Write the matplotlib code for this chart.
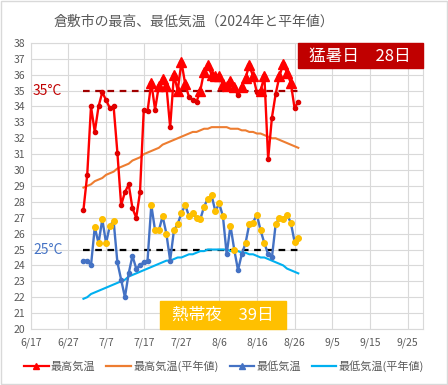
import numpy as np
import pandas as pd
import matplotlib
matplotlib.use("Agg")
import matplotlib.pyplot as plt
import matplotlib.dates as mdates
from matplotlib.lines import Line2D
from matplotlib.patches import Rectangle

plt.rcParams['font.family'] = ['Noto Sans CJK JP', 'DejaVu Sans']

# daily values 2024-07-01 .. 2024-08-27
start_date = '2024-07-01'
max_temp = [27.5, 29.7, 34.0, 32.4, 34.0, 34.9, 34.4, 33.9, 34.0, 31.1,
            27.8, 28.6, 29.1, 27.6, 27.0, 28.6, 33.8, 33.7, 35.5, 33.8,
            35.3, 35.7, 35.3, 32.7, 36.0, 35.0, 36.8, 35.4, 34.6, 34.4,
            34.3, 35.0, 36.2, 36.6, 36.0, 35.9, 35.9, 35.4, 35.3, 35.6,
            35.2, 34.7, 35.2, 35.8, 36.6, 35.9, 34.9, 35.0, 35.9, 30.7,
            33.3, 34.8, 35.9, 36.7, 36.1, 35.5, 33.9, 34.3]
max_normal = [28.9, 29.0, 29.1, 29.3, 29.4, 29.5, 29.7, 29.8, 29.9, 30.1,
              30.2, 30.3, 30.4, 30.6, 30.7, 30.8, 31.0, 31.1, 31.2, 31.3,
              31.4, 31.6, 31.7, 31.8, 31.9, 32.0, 32.1, 32.2, 32.3, 32.4,
              32.4, 32.5, 32.6, 32.6, 32.7, 32.7, 32.7, 32.7, 32.7, 32.6,
              32.6, 32.6, 32.5, 32.5, 32.4, 32.4, 32.3, 32.3, 32.2, 32.1,
              32.0, 32.0, 31.9, 31.8, 31.7, 31.6, 31.5, 31.4]
min_temp = [24.3, 24.3, 24.0, 26.4, 25.4, 26.9, 25.4, 26.5, 26.8, 24.2,
            23.1, 22.0, 23.5, 24.6, 23.8, 24.0, 24.2, 24.3, 27.8, 26.2,
            26.2, 27.1, 26.0, 24.3, 26.2, 26.6, 27.3, 27.8, 27.1, 27.3,
            27.0, 26.9, 27.7, 28.2, 28.4, 27.4, 27.9, 27.1, 24.7, 26.5,
            25.0, 23.7, 24.7, 25.4, 26.6, 26.7, 27.2, 26.2, 25.4, 24.7,
            24.5, 26.6, 27.0, 26.9, 27.2, 26.7, 25.5, 25.7]
min_normal = [21.9, 22.0, 22.2, 22.3, 22.4, 22.5, 22.6, 22.7, 22.8, 22.9,
              23.0, 23.1, 23.3, 23.4, 23.5, 23.6, 23.7, 23.8, 23.9, 24.0,
              24.1, 24.2, 24.3, 24.3, 24.4, 24.5, 24.5, 24.6, 24.7, 24.7,
              24.8, 24.9, 24.9, 25.0, 25.0, 25.0, 25.0, 25.0, 25.0, 24.9,
              24.9, 24.9, 24.8, 24.8, 24.7, 24.7, 24.6, 24.5, 24.5, 24.4,
              24.3, 24.2, 24.1, 24.0, 23.8, 23.7, 23.6, 23.5]

tick_labels = ['6/17', '6/27', '7/7', '7/17', '7/27', '8/6', '8/16',
               '8/26', '9/5', '9/15', '9/25']
hot_days = 28      # 猛暑日
tropical_nights = 39  # 熱帯夜

dates = pd.date_range(start_date, periods=len(max_temp))
x = mdates.date2num(dates)
max_temp = np.array(max_temp)
min_temp = np.array(min_temp)

fig = plt.figure(figsize=(4.48, 3.85), dpi=100)
ax = fig.add_axes([0.0685, 0.1455, 0.875, 0.743])

# normals
ax.plot(x, max_normal, color='#ED7D31', lw=1.5, zorder=3)
ax.plot(x, min_normal, color='#00B0F0', lw=1.5, zorder=3)

# threshold lines
ax.plot(x, [35] * len(x), color='#A00000', lw=1.6, ls=(0, (3, 2.5)), zorder=2)
ax.plot(x, [25] * len(x), color='black', lw=1.6, ls=(0, (3, 2.5)), zorder=2)

# max temp
ax.plot(x, max_temp, color='#FF0000', lw=1.7, marker='o', ms=3,
        mfc='#E00000', mec='#E00000', zorder=5)
hot = max_temp >= 35
ax.plot(x[hot], max_temp[hot], ls='none', marker='^', ms=6.5,
        color='#FF0000', zorder=6)

# min temp
ax.plot(x, min_temp, color='#4472C4', lw=1.7, marker='o', ms=3,
        mfc='#4472C4', mec='#4472C4', zorder=5)
warm = min_temp >= 25
ax.plot(x[warm], min_temp[warm], ls='none', marker='o', ms=4,
        color='#FFC000', zorder=6)

# axes
x0 = mdates.date2num(pd.Timestamp('2024-06-17'))
ticks = [x0 + 10 * i for i in range(len(tick_labels))]
ax.set_xlim(x0, x0 + 104)
ax.set_ylim(20, 38)
ax.set_xticks(ticks)
ax.set_xticklabels(tick_labels)
ax.set_yticks(range(20, 39))
ax.tick_params(length=0, labelsize=7.5, labelcolor='#595959', pad=6)
ax.tick_params(axis='y', pad=4)
ax.grid(True, color='#D9D9D9', lw=0.8)
ax.set_axisbelow(True)
for s in ax.spines.values():
    s.set_color('#D9D9D9')

# labels
ax.text(x0 + 0.6, 35, '35°C', color='#C00000', fontsize=10, va='center')
ax.text(x0 + 0.6, 25, '25°C', color='#4472C4', fontsize=10, va='center')

fig.text(0.432, 0.943, '倉敷市の最高、最低気温（2024年と平年値）',
         ha='center', va='center', fontsize=10, color='#595959')

# boxes
fig.patches.append(Rectangle((298 / 448, 1 - 68 / 385), 125 / 448, 25 / 385,
                             transform=fig.transFigure, color='#C00000', zorder=10))
fig.text(360 / 448, 1 - 56 / 385, f'猛暑日　{hot_days}日', ha='center', va='center',
         fontsize=12, color='white', zorder=11)
fig.patches.append(Rectangle((160 / 448, 1 - 329 / 385), 126 / 448, 28 / 385,
                             transform=fig.transFigure, color='#FFC000', zorder=10))
fig.text(223 / 448, 1 - 315 / 385, f'熱帯夜　{tropical_nights}日', ha='center',
         va='center', fontsize=12, color='white', zorder=11)

# legend
handles = [Line2D([], [], color='#FF0000', lw=1.6, marker='^', ms=4),
           Line2D([], [], color='#ED7D31', lw=1.6),
           Line2D([], [], color='#4472C4', lw=1.6, marker='^', ms=4),
           Line2D([], [], color='#00B0F0', lw=1.6)]
names = ['最高気温', '最高気温(平年値)', '最低気温', '最低気温(平年値)']
fig.legend(handles, names, loc='center', bbox_to_anchor=(0.5, 0.048), ncol=4,
           frameon=False, fontsize=8, handlelength=2.2, handletextpad=0.2,
           columnspacing=1.0, labelcolor='#595959')

# outer frame
fig.patches.append(Rectangle((0.003, 0.003), 0.994, 0.994, transform=fig.transFigure,
                             fill=False, edgecolor='#D9D9D9', lw=1))

fig.savefig('out.png', dpi=100)
